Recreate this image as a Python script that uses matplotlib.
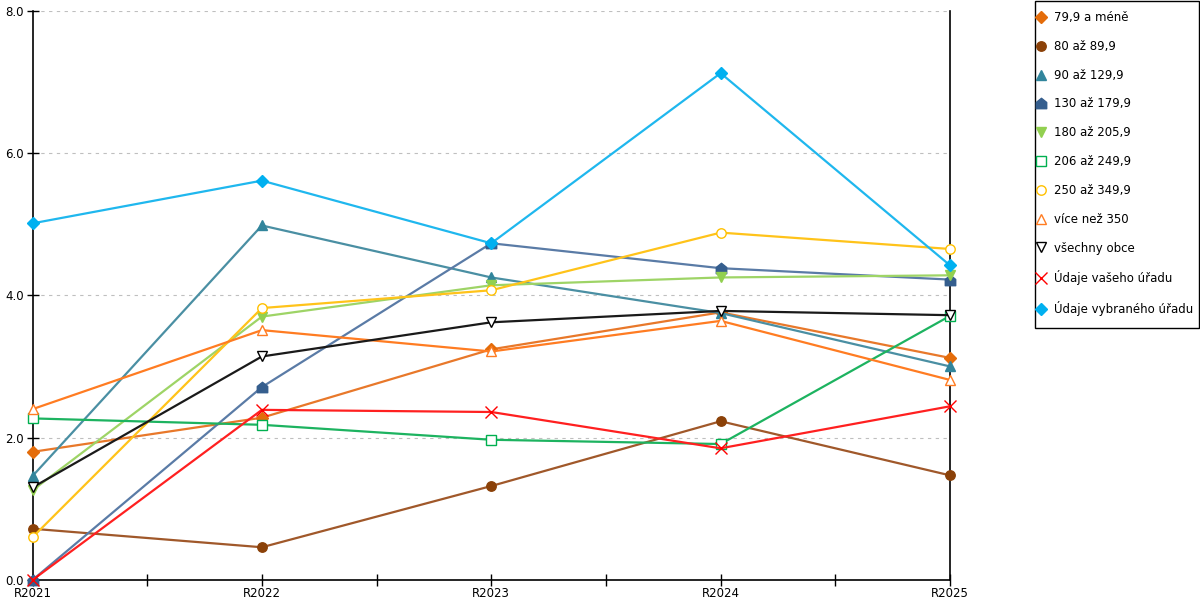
import matplotlib.pyplot as plt
from matplotlib.lines import Line2D
from matplotlib.path import Path
from matplotlib.patches import Rectangle
from matplotlib.ticker import MultipleLocator, FormatStrFormatter

plt.rcParams['font.family'] = ['DejaVu Sans']

# kategorie na ose x
roky = ["R2021", "R2022", "R2023", "R2024", "R2025"]

# hodnoty jednotlivých řad
s_79 = [1.80, 2.28, 3.24, 3.76, 3.12]
s_80 = [0.72, 0.46, 1.32, 2.23, 1.47]
s_90 = [1.46, 4.98, 4.25, 3.75, 3.00]
s_130 = [0.0, 2.71, 4.73, 4.38, 4.22]
s_180 = [1.26, 3.70, 4.14, 4.25, 4.28]
s_206 = [2.27, 2.18, 1.97, 1.91, 3.71]
s_250 = [0.60, 3.82, 4.07, 4.88, 4.65]
s_350 = [2.40, 3.51, 3.21, 3.64, 2.81]
s_vse = [1.30, 3.14, 3.62, 3.78, 3.72]
s_vas = [0.0, 2.39, 2.36, 1.85, 2.44]
s_vyb = [5.01, 5.61, 4.73, 7.12, 4.42]

# "domeček" jako značka pro 130 až 179,9
house = Path([(-1, -1), (1, -1), (1, 0.2), (0, 1), (-1, 0.2), (-1, -1)],
             [Path.MOVETO, Path.LINETO, Path.LINETO, Path.LINETO, Path.LINETO, Path.CLOSEPOLY])

# (popisek, data, barva čáry, barva značky, značka, plná)
series = [
    ("79,9 a méně", s_79, "#E8782A", "#E46C0A", "D", True),
    ("80 až 89,9", s_80, "#A0582A", "#8B4108", "o", True),
    ("90 až 129,9", s_90, "#4A8FA3", "#31859C", "^", True),
    ("130 až 179,9", s_130, "#5A7BA6", "#355E8E", house, True),
    ("180 až 205,9", s_180, "#9ED466", "#92D050", "v", True),
    ("206 až 249,9", s_206, "#1DB360", "#00B050", "s", False),
    ("250 až 349,9", s_250, "#FFC31A", "#FFC000", "o", False),
    ("více než 350", s_350, "#FF7C22", "#FF7C22", "^", False),
    ("všechny obce", s_vse, "#1A1A1A", "#000000", "v", False),
    ("Údaje vašeho úřadu", s_vas, "#FF2020", "#FF0000", "x", False),
    ("Údaje vybraného úřadu", s_vyb, "#1FB7EE", "#00B0F0", "D", True),
]

sizes = {"D": 6.2, "o": 6.8, "^": 7.2, "v": 7.2, "s": 6.8, "x": 8}

fig = plt.figure(figsize=(12, 6), dpi=100)
ax = fig.add_axes([32.5 / 1200, 20 / 600, (950 - 32.5) / 1200, (580 - 10.5) / 600])

x = list(range(len(roky)))
handles = []
for label, vals, lc, mc, mk, filled in series:
    ms = sizes.get(mk, 6.5) if isinstance(mk, str) else 7.5
    fc = mc if filled else "white"
    ax.plot(x, vals, color=lc, linewidth=1.6, marker=mk, markersize=ms,
            markerfacecolor=fc, markeredgecolor=mc, markeredgewidth=1.0,
            zorder=3, clip_on=False)
    handles.append(Line2D([], [], linestyle="none", marker=mk, markersize=ms,
                          markerfacecolor=fc, markeredgecolor=mc, markeredgewidth=1.0,
                          label=label))

ax.set_xlim(0, len(roky) - 1)
ax.set_ylim(0, 8)
ax.set_xticks(x)
ax.set_xticklabels(roky)
ax.xaxis.set_minor_locator(MultipleLocator(0.5))
ax.yaxis.set_major_locator(MultipleLocator(2))
ax.yaxis.set_major_formatter(FormatStrFormatter("%.1f"))
ax.tick_params(axis="both", which="both", direction="inout", length=8, width=1,
               labelsize=8.5, colors="black", pad=1)
ax.tick_params(axis="y", pad=2)

for y in [2, 4, 6, 8]:
    ax.axhline(y, color="#BFBFBF", linewidth=0.8, linestyle=(0, (3, 4)), zorder=1)

ax.spines["top"].set_visible(False)
for s in ["left", "bottom", "right"]:
    ax.spines[s].set_color("black")
    ax.spines[s].set_linewidth(1.2)

# legenda bez vlastního rámečku, rámeček se kreslí zvlášť
leg = fig.legend(handles=handles, loc="upper left", bbox_to_anchor=(1036 / 1200, 589 / 600),
                 fontsize=8.5, frameon=False,
                 labelspacing=1.34, handletextpad=0.6, handlelength=0.9,
                 borderpad=0, borderaxespad=0)
fig.add_artist(Rectangle((1034.5 / 1200, 272 / 600), 164 / 1200, 327 / 600,
                         transform=fig.transFigure, fill=False,
                         edgecolor="black", linewidth=1.0))

fig.savefig("out.png", dpi=100)
